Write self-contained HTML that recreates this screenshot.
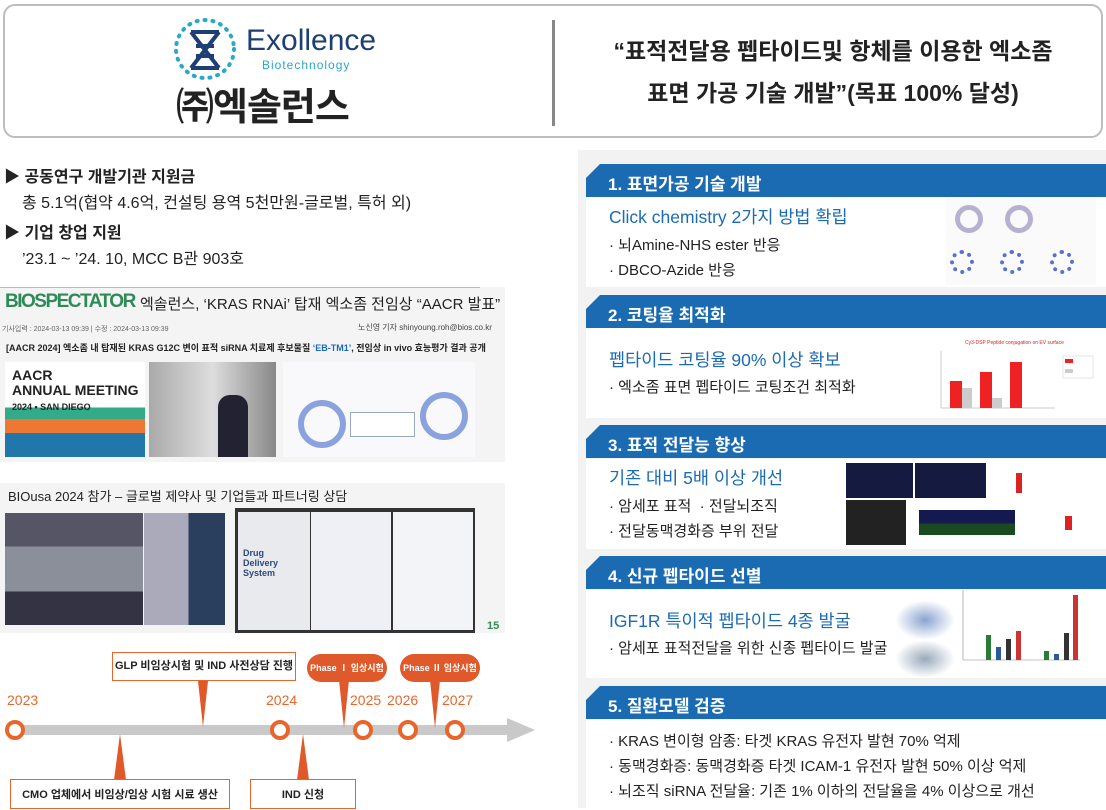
<!DOCTYPE html>
<html><head><meta charset="utf-8"><style>
*{margin:0;padding:0;box-sizing:border-box}
body{width:1106px;height:808px;position:relative;overflow:hidden;background:#fff;font-family:"Liberation Sans","Noto Sans CJK KR",sans-serif;color:#222}
.a{position:absolute;white-space:nowrap}
.hd{position:absolute;left:586px;width:520px;height:33px;background:#1b6bb3;color:#fff;font-size:17px;font-weight:bold;padding:6px 0 0 22px;clip-path:polygon(14px 0,100% 0,100% 100%,0 100%,0 14px)}
.bd{position:absolute;left:586px;width:520px;background:#fff}
.bt{color:#1b6bb3;font-size:17.5px}
.li{font-size:15px;color:#222}
.c{position:absolute;width:20px;height:20px;border:4px solid #e8662c;border-radius:50%;background:#fff;top:720px}
.yr{position:absolute;top:692px;color:#e8662c;font-size:14px}
.bx{position:absolute;border:1px solid #e8662c;background:#fff;font-size:11px;font-weight:bold;text-align:center;color:#222;white-space:nowrap}
.pl{position:absolute;background:#e0592a;color:#fff;border-radius:14px;font-size:9px;font-weight:bold;text-align:center;height:28px;line-height:28px;white-space:nowrap}
.tri{position:absolute;width:0;height:0}
</style></head><body>
<div class="a" style="left:578px;top:150px;width:528px;height:658px;background:#f2f2f2"></div>
<div class="a" style="left:3px;top:4px;width:1100px;height:134px;border:2px solid #bdbdbd;border-radius:12px;background:#fff"></div>
<div class="a" style="left:552px;top:20px;width:3px;height:106px;background:#888"></div>
<svg class="a" style="left:172px;top:16px" width="66" height="66" viewBox="0 0 66 66">
<circle cx="33" cy="33" r="29" fill="none" stroke="#29a9c9" stroke-width="4" stroke-dasharray="1 7" stroke-linecap="round"/>
<path d="M19 16 L47 52 M47 16 L19 52 M19 16 H47 M19 52 H47 M24 30 H42 M24 40 H42" stroke="#1d3f73" stroke-width="4" fill="none"/>
</svg>
<div class="a" style="left:246px;top:24px;font-size:30px;color:#1d3f73">Exollence</div>
<div class="a" style="left:262px;top:58px;font-size:12px;color:#29a9c9;letter-spacing:1px">Biotechnology</div>
<div class="a" style="left:176px;top:76px;font-size:38px;font-weight:bold;color:#222;letter-spacing:-1px">㈜엑솔런스</div>
<div class="a" style="left:560px;top:30px;width:546px;text-align:center;font-size:23px;font-weight:bold;line-height:42px;color:#222">“표적전달용 펩타이드및 항체를 이용한 엑소좀<br>표면 가공 기술 개발”(목표 100% 달성)</div>
<div class="a" style="left:4px;top:163px;font-size:16px;font-weight:bold">▶ 공동연구 개발기관 지원금</div>
<div class="a" style="left:22px;top:189px;font-size:16px">총 5.1억(협약 4.6억, 컨설팅 용역 5천만원-글로벌, 특허 외)</div>
<div class="a" style="left:4px;top:219px;font-size:16px;font-weight:bold">▶ 기업 창업 지원</div>
<div class="a" style="left:22px;top:245px;font-size:16px">’23.1 ~ ’24. 10, MCC B관 903호</div>
<div class="a" style="left:0;top:287px;width:505px;height:175px;background:#f4f4f4"></div>
<div class="a" style="left:0;top:287px;width:480px;height:1px;background:#bbb"></div>
<div class="a" style="left:5px;top:291px;font-size:19px;font-weight:bold;color:#2e8b57;letter-spacing:-1.5px">BIOSPECTATOR</div>
<div class="a" style="left:140px;top:293px;font-size:15px">엑솔런스, ‘KRAS RNAi’ 탑재 엑소좀 전임상 “AACR 발표”</div>
<div class="a" style="left:2px;top:324px;font-size:7px;color:#666">기사입력 : 2024-03-13 09:39 | 수정 : 2024-03-13 09:39</div>
<div class="a" style="left:358px;top:322px;font-size:8px;color:#444">노신영 기자 shinyoung.roh@bios.co.kr</div>
<div class="a" style="left:6px;top:341px;font-size:9px;font-weight:bold">[AACR 2024] 엑소좀 내 탑재된 KRAS G12C 변이 표적 siRNA 치료제 후보물질 <span style="color:#1b6bb3">‘EB-TM1’</span>, 전임상 in vivo 효능평가 결과 공개</div>
<div class="a" style="left:5px;top:362px;width:140px;height:95px;background:linear-gradient(#fff 0 48%,#3a8 48% 60%,#e73 60% 75%,#27a 75%)"></div>
<div class="a" style="left:12px;top:368px;font-size:14px;font-weight:bold;line-height:15px">AACR<br>ANNUAL MEETING<br><span style="font-size:9px">2024 • SAN DIEGO</span></div>
<div class="a" style="left:149px;top:362px;width:127px;height:95px;background:linear-gradient(90deg,#aaa,#ddd 50%,#888)"></div>
<div class="a" style="left:218px;top:395px;width:30px;height:62px;background:#223;border-radius:12px 12px 0 0"></div>
<div class="a" style="left:283px;top:362px;width:192px;height:95px;background:#f9f9fc"></div>
<div class="a" style="left:298px;top:400px;width:48px;height:48px;border:6px solid #8aa3de;border-radius:50%"></div>
<div class="a" style="left:420px;top:392px;width:48px;height:48px;border:6px solid #8aa3de;border-radius:50%"></div>
<div class="a" style="left:350px;top:412px;width:65px;height:25px;border:1px solid #9ab;background:#fff"></div>
<div class="a" style="left:0;top:483px;width:505px;height:150px;background:#f4f4f4"></div>
<div class="a" style="left:8px;top:486px;font-size:13px">BIOusa 2024 참가 – 글로벌 제약사 및 기업들과 파트너링 상담</div>
<div class="a" style="left:5px;top:513px;width:138px;height:112px;background:linear-gradient(#556 0 30%,#8a8f99 30% 70%,#334 70%)"></div>
<div class="a" style="left:144px;top:513px;width:81px;height:112px;background:linear-gradient(90deg,#aab 0 55%,#2a3e5e 55%)"></div>
<div class="a" style="left:235px;top:508px;width:240px;height:125px;background:#333"></div>
<div class="a" style="left:238px;top:512px;width:72px;height:118px;background:#e9eaee"></div>
<div class="a" style="left:243px;top:548px;font-size:9px;font-weight:bold;color:#2d4a7a;line-height:10px">Drug<br>Delivery<br>System</div>
<div class="a" style="left:311px;top:512px;width:80px;height:118px;background:#eef0f6"></div>
<div class="a" style="left:393px;top:512px;width:80px;height:118px;background:#f3f4f8"></div>
<div class="a" style="left:487px;top:620px;font-size:11px;font-weight:bold;color:#2e8b57">15</div>
<div class="a" style="left:14px;top:725px;width:500px;height:10px;background:#c9c9c9"></div>
<div class="tri" style="left:507px;top:718px;border-top:12px solid transparent;border-bottom:12px solid transparent;border-left:28px solid #c9c9c9"></div>
<div class="c" style="left:5px"></div><div class="c" style="left:270px"></div><div class="c" style="left:353px"></div><div class="c" style="left:398px"></div><div class="c" style="left:445px"></div>
<div class="yr" style="left:7px">2023</div><div class="yr" style="left:266px">2024</div><div class="yr" style="left:350px">2025</div><div class="yr" style="left:387px">2026</div><div class="yr" style="left:442px">2027</div>
<div class="tri" style="left:198px;top:681px;border-left:5px solid transparent;border-right:5px solid transparent;border-top:46px solid #e0592a"></div>
<div class="bx" style="left:112px;top:652px;width:184px;height:29px;line-height:27px">GLP 비임상시험 및 IND 사전상담 진행</div>
<div class="tri" style="left:114px;top:734px;border-left:6px solid transparent;border-right:6px solid transparent;border-bottom:46px solid #e0592a"></div>
<div class="bx" style="left:10px;top:779px;width:220px;height:30px;line-height:30px">CMO 업체에서 비임상/임상 시험 시료 생산</div>
<div class="tri" style="left:297px;top:734px;border-left:6px solid transparent;border-right:6px solid transparent;border-bottom:46px solid #e0592a"></div>
<div class="bx" style="left:250px;top:779px;width:106px;height:30px;line-height:30px">IND 신청</div>
<div class="tri" style="left:339px;top:680px;border-left:5px solid transparent;border-right:5px solid transparent;border-top:48px solid #e0592a"></div>
<div class="pl" style="left:307px;top:654px;width:80px">Phase Ⅰ 임상시험</div>
<div class="tri" style="left:430px;top:680px;border-left:5px solid transparent;border-right:5px solid transparent;border-top:48px solid #e0592a"></div>
<div class="pl" style="left:400px;top:654px;width:80px">Phase Ⅱ 임상시험</div>
<div class="hd" style="top:164px">1. 표면가공 기술 개발</div>
<div class="bd" style="top:197px;height:90px"></div>
<div class="a bt" style="left:609px;top:204px">Click chemistry 2가지 방법 확립</div>
<div class="a li" style="left:609px;top:234px">· 뇌Amine-NHS ester 반응</div>
<div class="a li" style="left:609px;top:259px">· DBCO-Azide 반응</div>
<div class="a" style="left:946px;top:197px;width:150px;height:88px;background:#fafafa"></div>
<div class="a" style="left:955px;top:205px;width:28px;height:28px;border:5px solid #b8b0d0;border-radius:50%"></div>
<div class="a" style="left:1005px;top:205px;width:28px;height:28px;border:5px solid #b8b0d0;border-radius:50%"></div>
<div class="a" style="left:950px;top:250px;width:24px;height:24px;border:4px dotted #5a6fd0;border-radius:50%"></div>
<div class="a" style="left:1000px;top:250px;width:24px;height:24px;border:4px dotted #5a6fd0;border-radius:50%"></div>
<div class="a" style="left:1050px;top:250px;width:24px;height:24px;border:4px dotted #5a6fd0;border-radius:50%"></div>
<div class="hd" style="top:295px">2. 코팅율 최적화</div>
<div class="bd" style="top:328px;height:90px"></div>
<div class="a bt" style="left:609px;top:347px">펩타이드 코팅율 90% 이상 확보</div>
<div class="a li" style="left:609px;top:376px">· 엑소좀 표면 펩타이드 코팅조건 최적화</div>
<svg class="a" style="left:905px;top:336px" width="190" height="80">
<text x="60" y="8" font-size="5" fill="#d22">Cy3-DSP Peptide conjugation on EV surface</text>
<line x1="36" y1="15" x2="36" y2="72" stroke="#999" stroke-width=".5"/><line x1="36" y1="72" x2="150" y2="72" stroke="#999" stroke-width=".5"/>
<rect x="45" y="45" width="12" height="27" fill="#e22"/><rect x="57" y="52" width="10" height="20" fill="#ccc"/>
<rect x="75" y="36" width="12" height="36" fill="#e22"/><rect x="87" y="62" width="10" height="10" fill="#ccc"/>
<rect x="105" y="26" width="12" height="46" fill="#e22"/>
<rect x="158" y="20" width="30" height="22" fill="#fff" stroke="#ccc" stroke-width=".5"/><rect x="160" y="23" width="8" height="4" fill="#e22"/><rect x="160" y="33" width="8" height="4" fill="#ccc"/>
</svg>
<div class="hd" style="top:425px">3. 표적 전달능 향상</div>
<div class="bd" style="top:459px;height:90px"></div>
<div class="a bt" style="left:609px;top:465px">기존 대비 5배 이상 개선</div>
<div class="a li" style="left:609px;top:495px">· 암세포 표적 &nbsp;· 전달뇌조직</div>
<div class="a li" style="left:609px;top:520px">· 전달동맥경화증 부위 전달</div>
<div class="a" style="left:846px;top:463px;width:140px;height:35px;background:#141a40"></div>
<div class="a" style="left:913px;top:463px;width:2px;height:35px;background:#fff"></div>
<div class="a" style="left:846px;top:500px;width:60px;height:45px;background:#222"></div>
<div class="a" style="left:919px;top:510px;width:96px;height:25px;background:linear-gradient(#141a50 55%,#1a4a20 55%)"></div>
<div class="a" style="left:1016px;top:473px;width:6px;height:20px;background:#d22"></div>
<div class="a" style="left:1065px;top:516px;width:7px;height:14px;background:#d22"></div>
<div class="hd" style="top:556px">4. 신규 펩타이드 선별</div>
<div class="bd" style="top:590px;height:88px"></div>
<div class="a bt" style="left:609px;top:608px">IGF1R 특이적 펩타이드 4종 발굴</div>
<div class="a li" style="left:609px;top:637px">· 암세포 표적전달을 위한 신종 펩타이드 발굴</div>
<div class="a" style="left:895px;top:600px;width:60px;height:40px;background:radial-gradient(#8aa4d0,#fff 70%)"></div>
<div class="a" style="left:895px;top:640px;width:60px;height:38px;background:radial-gradient(#9ab 0,#fff 70%)"></div>
<svg class="a" style="left:960px;top:585px" width="140" height="80">
<line x1="3" y1="5" x2="3" y2="75" stroke="#888" stroke-width=".6"/><line x1="3" y1="75" x2="120" y2="75" stroke="#888" stroke-width=".6"/>
<rect x="26" y="50" width="5" height="25" fill="#2a7a3a"/><rect x="36" y="62" width="5" height="13" fill="#2a5a9a"/><rect x="46" y="54" width="5" height="21" fill="#333"/><rect x="56" y="46" width="5" height="29" fill="#c33"/>
<rect x="84" y="66" width="5" height="9" fill="#2a7a3a"/><rect x="94" y="69" width="5" height="6" fill="#2a5a9a"/><rect x="104" y="48" width="5" height="27" fill="#333"/><rect x="113" y="10" width="5" height="65" fill="#c33"/>
</svg>
<div class="hd" style="top:686px">5. 질환모델 검증</div>
<div class="bd" style="top:720px;height:88px"></div>
<div class="a li" style="left:609px;top:730px">· KRAS 변이형 암종: 타겟 KRAS 유전자 발현 70% 억제</div>
<div class="a li" style="left:609px;top:755px">· 동맥경화증: 동맥경화증 타겟 ICAM-1 유전자 발현 50% 이상 억제</div>
<div class="a li" style="left:609px;top:780px">· 뇌조직 siRNA 전달율: 기존 1% 이하의 전달율을 4% 이상으로 개선</div>
</body></html>
